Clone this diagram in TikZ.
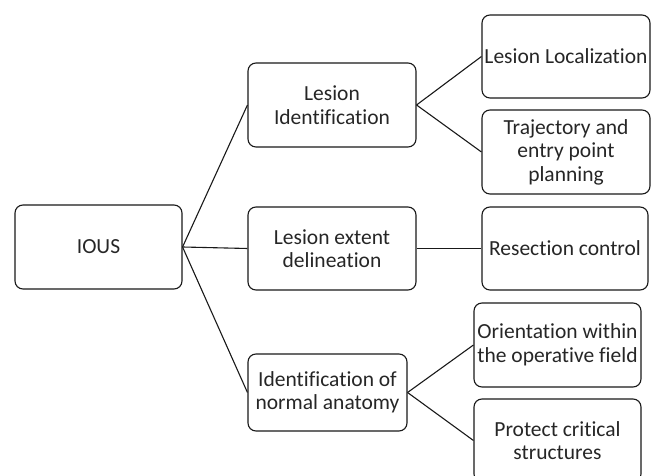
\documentclass[tikz,border=0pt]{standalone}
\usepackage{fontspec}
\setmainfont{Carlito}[RawFeature={-liga;-clig}]
\begin{document}
\begin{tikzpicture}[x=1pt,y=1pt,
  box/.style={draw=black!90,line width=1.1pt,rounded corners=8pt,align=center,
    inner sep=2pt,text=black!85,font=\fontsize{21.5}{23.5}\selectfont},
  link/.style={draw=black!90,line width=1.1pt}]
\useasboundingbox (0,0) rectangle (651,476);
\clip (0,0) rectangle (651,476);
\node[box,minimum width=167pt,minimum height=84pt] (ious) at (98.5,229) {IOUS};
\node[box,minimum width=168pt,minimum height=84pt] (li) at (332,371) {Lesion\\Identification};
\node[box,minimum width=168pt,minimum height=83pt] (ll) at (566,419.5) {Lesion Localization};
\node[box,minimum width=168pt,minimum height=84pt] (tr) at (566,324) {Trajectory and\\entry point\\planning};
\node[box,minimum width=168pt,minimum height=83pt] (le) at (332,227.5) {Lesion extent\\delineation};
\node[box,minimum width=166pt,minimum height=83pt] (rc) at (565,227.5) {Resection control};
\node[box,minimum width=159pt,minimum height=77pt] (na) at (327.5,83.5) {Identification of\\normal anatomy};
\node[box,minimum width=167pt,minimum height=84pt] (or) at (557.5,131) {Orientation within\\the operative field};
\node[box,minimum width=167pt,minimum height=83pt] (pr) at (557.5,35.5) {Protect critical\\structures};
\draw[link] (ious.east) -- (li.west);
\draw[link] (ious.east) -- (le.west);
\draw[link] (ious.east) -- (na.west);
\draw[link] (li.east) -- (ll.west);
\draw[link] (li.east) -- (tr.west);
\draw[link] (le.east) -- (rc.west);
\draw[link] (na.east) -- (or.west);
\draw[link] (na.east) -- (pr.west);
\end{tikzpicture}
\end{document}
